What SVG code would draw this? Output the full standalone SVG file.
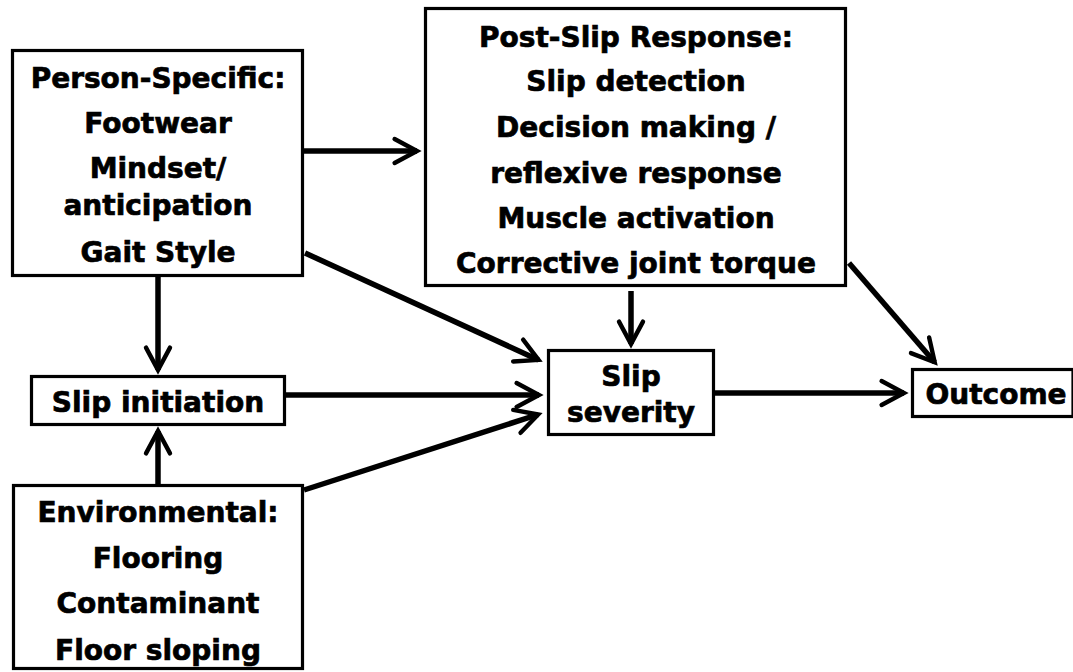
<svg xmlns="http://www.w3.org/2000/svg" width="1073" height="672" viewBox="0 0 1073 672">
  <style>
    .box { fill: #ffffff; stroke: #000000; stroke-width: 3.2; }
    .lbl { font-family: "DejaVu Sans", Verdana, sans-serif; font-weight: bold; font-size: 28px; fill: #000000; stroke: #000000; stroke-width: 0.7; text-anchor: middle; }
    .conn { fill: none; stroke: #000000; stroke-width: 5.5; marker-end: url(#arrow); }
  </style>
  <defs>
    <marker id="arrow" markerUnits="userSpaceOnUse" markerWidth="40" markerHeight="40" refX="0" refY="0" orient="auto" overflow="visible" viewBox="-40 -20 50 40">
      <path d="M-28,-15 L0,0 L-28,15" fill="none" stroke="#000000" stroke-width="5.5" stroke-linecap="round" stroke-linejoin="miter"/>
    </marker>
  </defs>
  <rect x="0" y="0" width="1073" height="672" fill="#ffffff"/>

  <g id="connectors">
    <path class="conn" d="M304,151 H417"/>
    <path class="conn" d="M158,277 V370"/>
    <path class="conn" d="M158,484 V431"/>
    <path class="conn" d="M305,253 L538.5,359.9"/>
    <path class="conn" d="M286,395 H539"/>
    <path class="conn" d="M304,490 L538.2,414.5"/>
    <path class="conn" d="M631,291 V344"/>
    <path class="conn" d="M849,263 L934.7,362.2"/>
    <path class="conn" d="M715,393 H904"/>
  </g>

  <g id="person-specific">
    <rect class="box" x="12.5" y="50.5" width="290" height="225"/>
    <text class="lbl" x="158" y="88">Person-Specific:</text>
    <text class="lbl" x="158" y="133">Footwear</text>
    <text class="lbl" x="158" y="178">Mindset/</text>
    <text class="lbl" x="158" y="215">anticipation</text>
    <text class="lbl" x="158" y="262">Gait Style</text>
  </g>

  <g id="post-slip-response">
    <rect class="box" x="425.5" y="8.5" width="420" height="277"/>
    <text class="lbl" x="636" y="47">Post-Slip Response:</text>
    <text class="lbl" x="636" y="91">Slip detection</text>
    <text class="lbl" x="636" y="137">Decision making /</text>
    <text class="lbl" x="636" y="183">reflexive response</text>
    <text class="lbl" x="636" y="228">Muscle activation</text>
    <text class="lbl" x="636" y="273">Corrective joint torque</text>
  </g>

  <g id="slip-initiation">
    <rect class="box" x="31.5" y="376.5" width="253" height="48"/>
    <text class="lbl" x="158" y="412">Slip initiation</text>
  </g>

  <g id="environmental">
    <rect class="box" x="13.5" y="485.5" width="289" height="183"/>
    <text class="lbl" x="158" y="522">Environmental:</text>
    <text class="lbl" x="158" y="568">Flooring</text>
    <text class="lbl" x="158" y="613">Contaminant</text>
    <text class="lbl" x="158" y="660">Floor sloping</text>
  </g>

  <g id="slip-severity">
    <rect class="box" x="548.5" y="350.5" width="165" height="84"/>
    <text class="lbl" x="631" y="386">Slip</text>
    <text class="lbl" x="631" y="422">severity</text>
  </g>

  <g id="outcome">
    <rect class="box" x="912.5" y="369.5" width="160.5" height="47"/>
    <text class="lbl" x="996" y="404">Outcome</text>
  </g>
</svg>
